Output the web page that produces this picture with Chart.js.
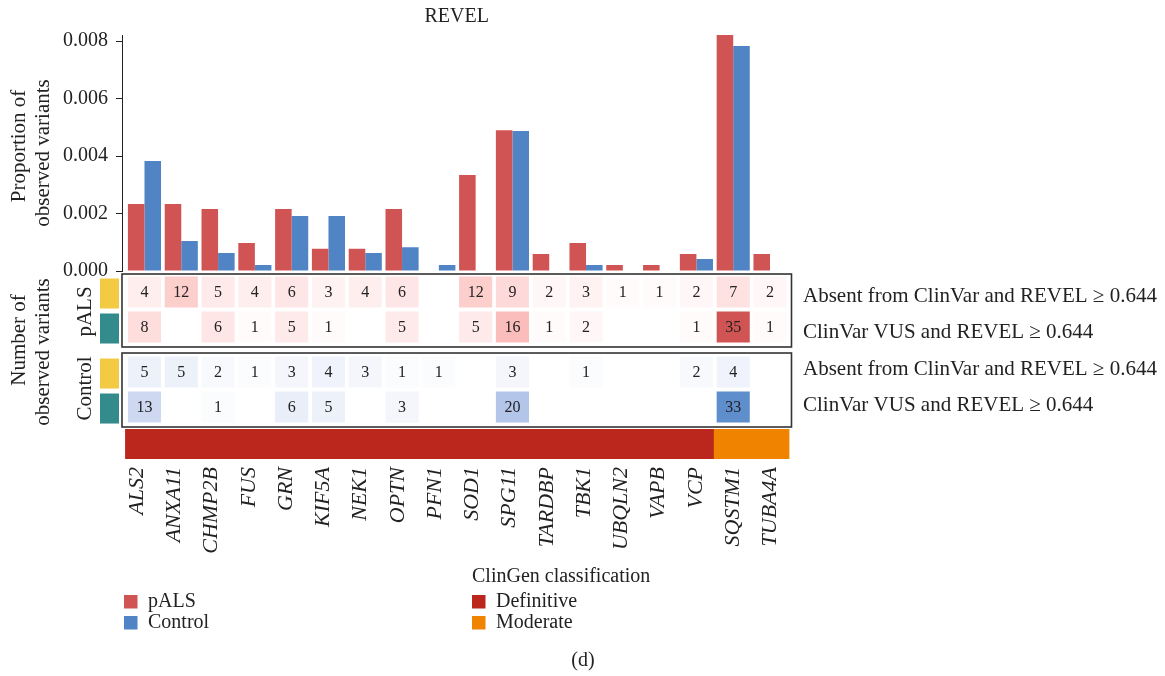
<!DOCTYPE html>
<html>
<head>
<meta charset="utf-8">
<title>REVEL</title>
<script src="https://cdn.jsdelivr.net/npm/chart.js@4/dist/chart.umd.min.js"></script>
<style>
  html, body { margin: 0; padding: 0; background: #fff; }
  #wrap { width: 1165px; height: 676px; }
</style>
</head>
<body>
<div id="wrap"><canvas id="chart" width="1165" height="676"></canvas></div>
<script>
// ---- data ----
const genes = ['ALS2', 'ANXA11', 'CHMP2B', 'FUS', 'GRN', 'KIF5A', 'NEK1', 'OPTN', 'PFN1',
  'SOD1', 'SPG11', 'TARDBP', 'TBK1', 'UBQLN2', 'VAPB', 'VCP', 'SQSTM1', 'TUBA4A'];
const clingenClass = ['Definitive', 'Definitive', 'Definitive', 'Definitive', 'Definitive', 'Definitive',
  'Definitive', 'Definitive', 'Definitive', 'Definitive', 'Definitive', 'Definitive', 'Definitive',
  'Definitive', 'Definitive', 'Definitive', 'Moderate', 'Moderate'];

// proportion of observed variants
const propPALS = [0.00233, 0.00233, 0.00216, 0.00097, 0.00216, 0.00077, 0.00077, 0.00216, null,
  0.00334, 0.00490, 0.00059, 0.00097, 0.00021, 0.00021, 0.00059, 0.00821, 0.00059];
const propControl = [0.00383, 0.00104, 0.00063, 0.00021, 0.00191, 0.00191, 0.00063, 0.00083, 0.00021,
  null, 0.00487, null, 0.00021, null, null, 0.00042, 0.00783, null];

// number of observed variants
const pALSAbsent = [4, 12, 5, 4, 6, 3, 4, 6, null, 12, 9, 2, 3, 1, 1, 2, 7, 2];
const pALSVus = [8, null, 6, 1, 5, 1, null, 5, null, 5, 16, 1, 2, null, null, 1, 35, 1];
const controlAbsent = [5, 5, 2, 1, 3, 4, 3, 1, 1, null, 3, null, 1, null, null, 2, 4, null];
const controlVus = [13, null, 1, null, 6, 5, null, 3, null, null, 20, null, null, null, null, null, 33, null];

const yTickValues = [0, 0.002, 0.004, 0.006, 0.008];
const rowNames = ['Absent from ClinVar and REVEL \u2265 0.644', 'ClinVar VUS and REVEL \u2265 0.644',
  'Absent from ClinVar and REVEL \u2265 0.644', 'ClinVar VUS and REVEL \u2265 0.644'];

// ---- styling / layout ----
const FONT = "'Liberation Serif', 'Times New Roman', serif";
const INK = '#222';
const COLORS = {
  pALS: '#D05454', control: '#5084C5',
  Definitive: '#BB271C', Moderate: '#F08400',
  absent: '#F4CA43', vus: '#338B8C'
};
// colour ramps for the count cells: [count, [r, g, b]]
const RAMPS = {
  pALS: [[0, [255, 255, 255]], [16, [251, 189, 187]], [35, [209, 84, 84]]],
  control: [[0, [255, 255, 255]], [20, [180, 197, 234]], [35, [82, 134, 199]]]
};
const ROW_POS = [0, 1, 2.286, 3.286];      // heatmap rows on the lower axis
const ROW_KIND = ['absent', 'vus', 'absent', 'vus'];
const CELL_HALF = 0.443;
const ANNOT_BAND = [3.943, 4.771];
const PANELS = [[-0.514, 1.571], [1.743, 3.857]];

function rampColor(count, ramp) {
  let i = 1;
  while (i < ramp.length - 1 && count > ramp[i][0]) i++;
  const [c0, a] = ramp[i - 1], [c1, b] = ramp[i];
  const t = Math.max(0, Math.min(1, (count - c0) / (c1 - c0)));
  const m = k => Math.round(a[k] + (b[k] - a[k]) * t);
  return `rgb(${m(0)},${m(1)},${m(2)})`;
}

function barSeries(label, values, color) {
  return {
    label, xAxisID: 'x', yAxisID: 'y',
    data: values.map((v, i) => ({ x: i, y: v })),
    backgroundColor: color, borderWidth: 0,
    categoryPercentage: 0.9, barPercentage: 1
  };
}

function heatRow(label, counts, row, ramp) {
  const pos = ROW_POS[row];
  return {
    label, isHeat: true, xAxisID: 'x', yAxisID: 'yh', grouped: false,
    data: counts.map((c, i) => c ? { x: i, y: [pos - CELL_HALF, pos + CELL_HALF], count: c } : null)
      .filter(Boolean),
    backgroundColor: ctx => rampColor(ctx.raw.count, ramp),
    borderWidth: 0, categoryPercentage: 0.9, barPercentage: 1
  };
}

const annotation = {
  label: 'ClinGen classification', xAxisID: 'x', yAxisID: 'yh', grouped: false,
  data: clingenClass.map((c, i) => ({ x: i, y: ANNOT_BAND, cls: c })),
  backgroundColor: ctx => COLORS[ctx.raw.cls],
  borderWidth: 0, categoryPercentage: 1, barPercentage: 1, inflateAmount: 1
};

function rotatedText(ctx, text, x, y) {
  ctx.save();
  ctx.translate(x, y);
  ctx.rotate(-Math.PI / 2);
  ctx.fillText(text, 0, 0);
  ctx.restore();
}

const geneTicks = s => { s.ticks = genes.map((g, i) => ({ value: i })); };

// labels, frames and legends around the plotted marks
const decor = {
  id: 'decor',
  afterDatasetsDraw(chart) {
    const { ctx, chartArea: a } = chart;
    const yh = chart.scales.yh;
    ctx.save();

    // counts printed in the heatmap cells
    ctx.fillStyle = INK;
    ctx.font = `16px ${FONT}`;
    ctx.textAlign = 'center';
    ctx.textBaseline = 'middle';
    chart.data.datasets.forEach((ds, di) => {
      if (!ds.isHeat) return;
      chart.getDatasetMeta(di).data.forEach((el, j) => {
        const p = el.getCenterPoint();
        ctx.fillText(String(ds.data[j].count), p.x, p.y + 1);
      });
    });

    // panel frames
    ctx.strokeStyle = '#333';
    ctx.lineWidth = 1.6;
    PANELS.forEach(([t, b]) => {
      const top = yh.getPixelForValue(t), bot = yh.getPixelForValue(b);
      ctx.strokeRect(a.left, top, a.right - a.left, bot - top);
    });

    // row type markers
    ROW_POS.forEach((pos, r) => {
      const top = yh.getPixelForValue(pos - CELL_HALF), bot = yh.getPixelForValue(pos + CELL_HALF);
      ctx.fillStyle = COLORS[ROW_KIND[r]];
      ctx.fillRect(a.left - 22, top + 2, 19, bot - top - 1);
    });

    // row names on the right
    ctx.fillStyle = INK;
    ctx.font = `21px ${FONT}`;
    ctx.textAlign = 'left';
    const nudge = [4, 5, -3, -2];
    ROW_POS.forEach((pos, r) => {
      ctx.fillText(rowNames[r], a.right + 11.5, yh.getPixelForValue(pos) + nudge[r]);
    });

    // group labels
    ctx.textAlign = 'center';
    ctx.font = `21px ${FONT}`;
    rotatedText(ctx, 'pALS', a.left - 37, (yh.getPixelForValue(ROW_POS[0]) + yh.getPixelForValue(ROW_POS[1])) / 2 + 2);
    rotatedText(ctx, 'Control', a.left - 37, (yh.getPixelForValue(ROW_POS[2]) + yh.getPixelForValue(ROW_POS[3])) / 2 - 1);

    // axis titles
    rotatedText(ctx, 'Proportion of', 19, 146);
    rotatedText(ctx, 'observed variants', 43, 153);
    rotatedText(ctx, 'Number of', 19, 340);
    rotatedText(ctx, 'observed variants', 43, 352);

    // title
    ctx.font = `20px ${FONT}`;
    ctx.fillText('REVEL', (a.left + a.right) / 2, 17);

    // legends
    ctx.textAlign = 'left';
    ctx.font = `20px ${FONT}`;
    const legendRow = (x, y, color, text) => {
      ctx.fillStyle = color;
      ctx.fillRect(x, y - 6.5, 13.5, 13.5);
      ctx.fillStyle = INK;
      ctx.fillText(text, x + 24, y);
    };
    legendRow(124, 601.5, COLORS.pALS, 'pALS');
    legendRow(124, 622.5, COLORS.control, 'Control');
    ctx.fillText('ClinGen classification', 472, 577);
    legendRow(472, 601.5, COLORS.Definitive, 'Definitive');
    legendRow(472, 622.5, COLORS.Moderate, 'Moderate');

    ctx.textAlign = 'center';
    ctx.fillText('(d)', 583, 661);
    ctx.restore();
  }
};

const yMax = Math.max(...propPALS.filter(v => v !== null), ...propControl.filter(v => v !== null));

new Chart(document.getElementById('chart'), {
  type: 'bar',
  data: {
    datasets: [
      barSeries('pALS', propPALS, COLORS.pALS),
      barSeries('Control', propControl, COLORS.control),
      heatRow('pALS absent', pALSAbsent, 0, RAMPS.pALS),
      heatRow('pALS VUS', pALSVus, 1, RAMPS.pALS),
      heatRow('Control absent', controlAbsent, 2, RAMPS.control),
      heatRow('Control VUS', controlVus, 3, RAMPS.control),
      annotation
    ]
  },
  options: {
    responsive: false,
    animation: false,
    devicePixelRatio: 1,
    layout: { padding: { top: 35, right: 373.5, bottom: 117, left: 0 } },
    plugins: { legend: { display: false }, tooltip: { enabled: false }, title: { display: false } },
    scales: {
      x: {
        type: 'linear', position: 'bottom', bounds: 'data', offset: false,
        min: -0.611, max: 17.584,
        afterBuildTicks: geneTicks,
        afterFit: s => { s.height = 0; },
        grid: { display: false }, border: { display: false }, ticks: { display: false }
      },
      xLabels: {
        type: 'linear', position: 'bottom', bounds: 'data', offset: false,
        min: -0.349, max: 17.619,
        afterBuildTicks: geneTicks,
        afterFit: s => { s.height = 100; },
        grid: { display: false }, border: { display: false },
        ticks: {
          autoSkip: false, minRotation: 90, maxRotation: 90, padding: 0, labelOffset: 2, color: INK,
          font: { family: FONT, size: 22, style: 'italic' },
          callback: v => genes[v]
        }
      },
      y: {
        type: 'linear', position: 'left', stack: 'v', stackWeight: 236, weight: 1,
        bounds: 'data', min: 0, max: yMax,
        afterBuildTicks: s => { s.ticks = yTickValues.map(v => ({ value: v })); },
        afterFit: s => { s.width = 122; },
        border: { display: true, color: INK, width: 1 },
        grid: { drawOnChartArea: false, drawTicks: true, tickLength: 6, color: INK },
        ticks: {
          padding: 8, color: INK, font: { family: FONT, size: 20 },
          callback: v => v.toFixed(3)
        }
      },
      yh: {
        type: 'linear', position: 'left', stack: 'v', stackWeight: 188, weight: 0,
        bounds: 'data', min: -0.6, max: 4.771, reverse: true,
        border: { display: false }, grid: { display: false }, ticks: { display: false }
      }
    }
  },
  plugins: [decor]
});
</script>
</body>
</html>
